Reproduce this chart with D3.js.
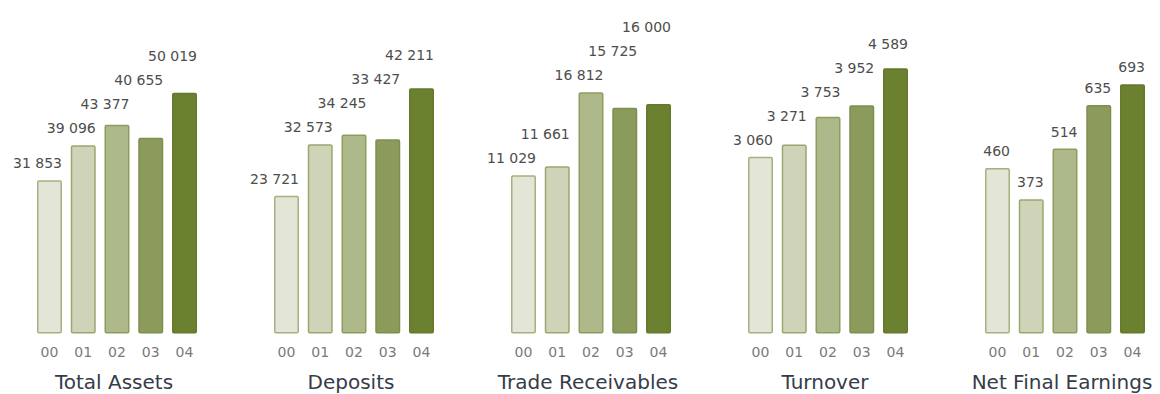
<!DOCTYPE html>
<html>
<head>
<meta charset="utf-8">
<script src="https://cdn.jsdelivr.net/npm/d3@7"></script>
<style>
  body { margin: 0; background: #fff; }
  svg { display: block; }
</style>
</head>
<body>
<svg id="chart" width="1160" height="394"></svg>
<script>
// Five key figures, years 2000–2004
const years = ["00", "01", "02", "03", "04"];
const titles = ["Total Assets", "Deposits", "Trade Receivables", "Turnover", "Net Final Earnings"];
const totalAssets = [31853, 39096, 43377, 40655, 50019];
const deposits = [23721, 32573, 34245, 33427, 42211];
const tradeReceivables = [11029, 11661, 16812, 15725, 16000];
const turnover = [3060, 3271, 3753, 3952, 4589];
const netFinalEarnings = [460, 373, 514, 635, 693];
// upper end of each panel's value axis
const axisMax = [55100, 45650, 18480, 4590, 737];

const series = [totalAssets, deposits, tradeReceivables, turnover, netFinalEarnings];

// one shade per year, light to dark
const barFill = ["#e3e6d6", "#cfd4b8", "#adb98a", "#8b9b5b", "#6b812f"];
const barStroke = ["#a3b27e", "#98a86f", "#8c9d5e", "#7d8e4e", "#64792b"];

const baseY = 333.5, topY = 68.3;
const panelStep = 237, firstX = 37, groupWidth = 160;
const labelGap = 17, labelStep = 24;

const fmt = d3.formatLocale({ decimal: ".", thousands: "\u00a0", grouping: [3], currency: ["", ""] }).format(",d");

const svg = d3.select("#chart");
const font = "'DejaVu Sans', Verdana, sans-serif";

series.forEach((values, p) => {
  const x0 = firstX + panelStep * p;
  const x = d3.scaleBand().domain(years).range([x0, x0 + groupWidth]).paddingInner(0.26).paddingOuter(0);
  const y = d3.scaleLinear().domain([0, axisMax[p]]).range([baseY, topY]);
  const data = years.map((yr, i) => ({ yr, v: values[i], i }));

  const g = svg.append("g").attr("class", "panel");

  // bars
  g.selectAll("rect.bar").data(data).join("rect")
    .attr("class", "bar")
    .attr("x", d => x(d.yr) + 0.75)
    .attr("y", d => y(d.v) + 0.75)
    .attr("width", x.bandwidth() - 1.5)
    .attr("height", d => baseY - y(d.v) - 1.5)
    .attr("rx", 1.2)
    .attr("fill", d => barFill[d.i])
    .attr("stroke", d => barStroke[d.i])
    .attr("stroke-width", 1.5);

  // value labels, right-aligned to the bar, stepped upward when they would collide
  const labels = g.selectAll("text.val").data(data).join("text")
    .attr("class", "val")
    .attr("text-anchor", "end")
    .attr("x", d => x(d.yr) + x.bandwidth())
    .attr("font-family", font)
    .attr("font-size", 14)
    .attr("fill", "#4d4d4d")
    .text(d => fmt(d.v));

  let prev = null;
  labels.each(function (d) {
    const w = this.getComputedTextLength();
    const right = x(d.yr) + x.bandwidth();
    let cy = y(d.v) - labelGap;
    if (prev && right - w < prev.right) {
      cy = Math.min(cy, prev.cy - labelStep);
    }
    d3.select(this).attr("y", cy + 5);
    prev = { right, cy };
  });

  // year axis
  const axis = g.append("g")
    .attr("transform", `translate(0,${baseY})`)
    .call(d3.axisBottom(x).tickSize(0).tickPadding(14));
  axis.select(".domain").remove();
  axis.selectAll("text")
    .attr("font-family", font)
    .attr("font-size", 14)
    .attr("fill", "#7a7a7a");

  // panel title
  g.append("text")
    .attr("x", x0 + groupWidth / 2 - 3)
    .attr("y", 388.5)
    .attr("text-anchor", "middle")
    .attr("font-family", font)
    .attr("font-size", 20)
    .attr("fill", "#353c48")
    .text(titles[p]);
});
</script>
</body>
</html>
